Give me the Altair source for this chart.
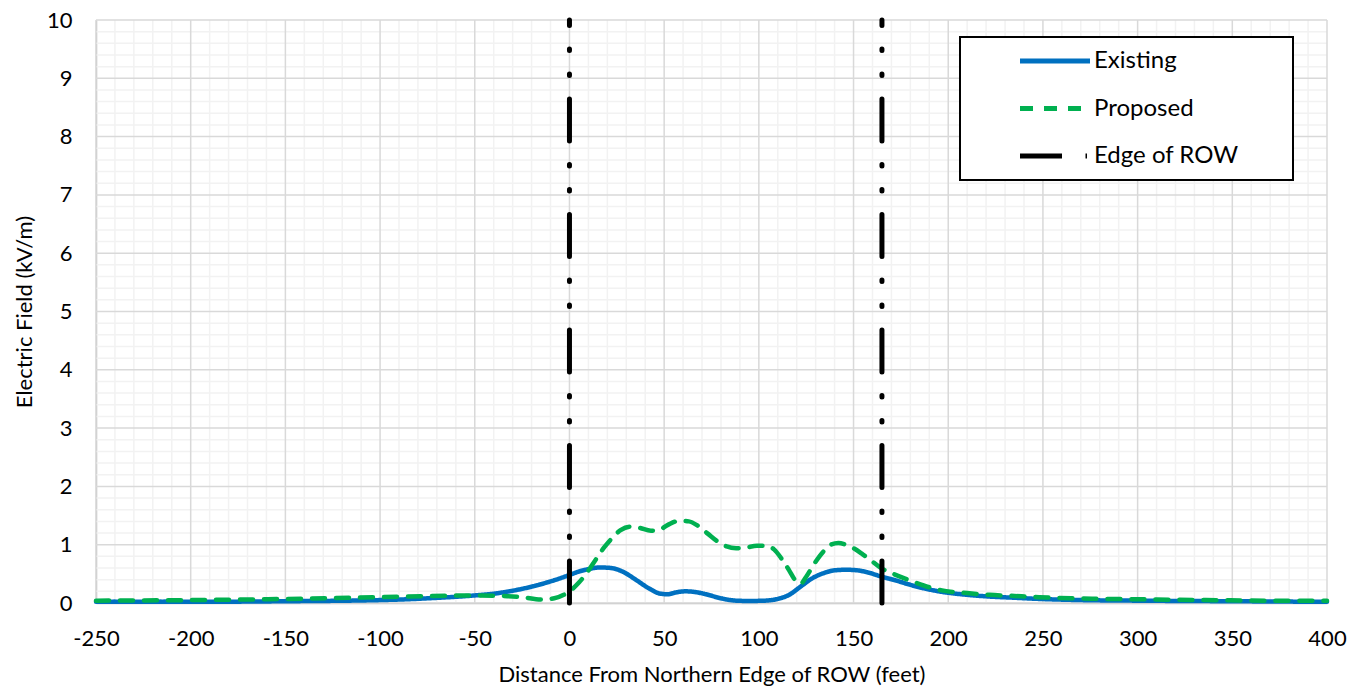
import altair as alt
import pandas as pd

# ---- data ----
x_existing = [-250, -200, -150, -100, -89, -75, -50, -40, -30, -20, -10, 0, 5, 10, 16, 22, 28, 35, 42,
              48, 52, 56, 61, 66, 72, 80, 88, 95, 103, 110, 116, 122, 128, 134, 140, 146, 152, 158,
              165, 172, 178, 186, 195, 210, 222, 235, 248, 270, 300, 350, 400]
y_existing = [0.02, 0.02, 0.03, 0.05, 0.06, 0.08, 0.13, 0.16, 0.21, 0.28, 0.37, 0.48, 0.54, 0.58, 0.61,
              0.60, 0.54, 0.40, 0.25, 0.16, 0.15, 0.18, 0.20, 0.19, 0.15, 0.08, 0.04, 0.035, 0.04, 0.07,
              0.14, 0.28, 0.42, 0.51, 0.56, 0.57, 0.56, 0.52, 0.45, 0.39, 0.33, 0.26, 0.20, 0.14, 0.11,
              0.09, 0.07, 0.05, 0.04, 0.03, 0.02]

x_proposed = [-250, -200, -150, -100, -75, -50, -35, -25, -15, -8, -3, 0, 5, 9, 14, 18, 23, 27, 32, 37,
              43, 47, 52, 58, 63, 68, 73, 78, 83, 88, 93, 99, 104, 108, 112, 116, 119, 122, 125, 129,
              134, 138, 142, 146, 150, 155, 160, 164, 171, 178, 187, 196, 210, 222, 235, 248, 265, 284,
              310, 336, 370, 400]
y_proposed = [0.04, 0.05, 0.07, 0.10, 0.12, 0.13, 0.12, 0.10, 0.06, 0.08, 0.14, 0.20, 0.35, 0.51, 0.75,
              0.94, 1.13, 1.25, 1.31, 1.29, 1.24, 1.25, 1.34, 1.41, 1.40, 1.32, 1.19, 1.06, 0.97, 0.94,
              0.95, 0.98, 0.98, 0.92, 0.76, 0.56, 0.40, 0.33, 0.45, 0.66, 0.88, 1.00, 1.03, 1.00, 0.94,
              0.83, 0.71, 0.61, 0.50, 0.41, 0.30, 0.22, 0.17, 0.14, 0.12, 0.10, 0.08, 0.07, 0.06, 0.05,
              0.04, 0.04]

row_edges = [0, 165]
series_names = ["Existing", "Proposed", "Edge of ROW"]
series_colors = ["#0070C0", "#00B050", "#000000"]
series_dashes = [[1, 0], [13, 11], [42, 23.5, 1.5, 23.5, 1.5, 23.5]]

x_ticks = list(range(-250, 401, 50))
y_ticks = list(range(0, 11))
x_minor = [v for v in range(-250, 401, 10) if v % 50 != 0]
y_minor = [round(i * 0.2, 1) for i in range(51) if i % 5 != 0]

FONT = "Lato"
PAD = "\u00a0" + "\u2800" * 2   # blank filler to widen the legend box

lines_df = pd.concat([
    pd.DataFrame({"x": x_existing, "y": y_existing, "series": "Existing"}),
    pd.DataFrame({"x": x_proposed, "y": y_proposed, "series": "Proposed"}),
])
row_df = pd.DataFrame({"x": row_edges, "series": "Edge of ROW"})

xscale = alt.Scale(domain=[-250, 400], nice=False, zero=False)
yscale = alt.Scale(domain=[0, 10], nice=False)
xaxis = alt.Axis(values=x_ticks, grid=False, ticks=False, domainColor="#BFBFBF", domainWidth=1.5,
                 labelExpr="'' + datum.value",
                 labelFontSize=22, labelFont=FONT, labelColor="black", labelPadding=25,
                 titleFontSize=22, titleFont=FONT, titleFontWeight="normal", titleColor="black",
                 titlePadding=15, labelFlush=False)
yaxis = alt.Axis(values=y_ticks, grid=False, ticks=False, domainColor="#BFBFBF", domainWidth=1.5,
                 labelExpr="'' + datum.value",
                 labelFontSize=22, labelFont=FONT, labelColor="black", labelPadding=24,
                 titleFontSize=22, titleFont=FONT, titleFontWeight="normal", titleColor="black",
                 titlePadding=10)

X = alt.X("x:Q", scale=xscale, axis=xaxis, title="Distance From Northern Edge of ROW (feet)")
Y = alt.Y("y:Q", scale=yscale, axis=yaxis, title="Electric Field (kV/m)")

color = alt.Color("series:N", scale=alt.Scale(domain=series_names, range=series_colors),
                  title=None,
                  legend=alt.Legend(orient="none", legendX=864, legendY=17,
                                    symbolType="M-5,0H5", symbolSize=196, symbolStrokeWidth=5,
                                    labelFontSize=24, labelFont=FONT, labelColor="black",
                                    labelOffset=27, labelExpr="datum.label + '" + PAD + "'",
                                    labelLimit=300,
                                    padding=12, rowPadding=23.5, symbolOffset=71,
                                    strokeColor="black", fillColor="white"))
dash = alt.StrokeDash("series:N", scale=alt.Scale(domain=series_names, range=series_dashes),
                      title=None, legend=None)

minor_x = alt.Chart(pd.DataFrame({"x": x_minor})).mark_rule(color="#F2F2F2", strokeWidth=1.5).encode(x=X)
minor_y = alt.Chart(pd.DataFrame({"y": y_minor})).mark_rule(color="#F2F2F2", strokeWidth=1.5).encode(y=Y)
major_x = alt.Chart(pd.DataFrame({"x": x_ticks})).mark_rule(color="#D9D9D9", strokeWidth=1.5).encode(x=X)
major_y = alt.Chart(pd.DataFrame({"y": y_ticks})).mark_rule(color="#D9D9D9", strokeWidth=1.5).encode(y=Y)

lines = alt.Chart(lines_df).mark_line(interpolate="monotone", strokeCap="round", strokeWidth=4.5).encode(
    x=X, y=Y, color=color, strokeDash=dash, detail="series:N")

rows = alt.Chart(row_df).mark_rule(strokeWidth=5, strokeCap="round").encode(
    x=X, y=alt.datum(0), y2=alt.datum(10), color=color, strokeDash=dash)

chart = alt.layer(minor_x, minor_y, major_x, major_y, lines, rows).properties(
    width=1231, height=583,
    autosize=alt.AutoSizeParams(type="none"),
    padding={"left": 88, "top": 12, "right": 20, "bottom": 85},
).configure_view(stroke=None).configure_legend(strokeWidth=2)

chart.save("out.html", embed_options={"renderer": "svg", "actions": False})
